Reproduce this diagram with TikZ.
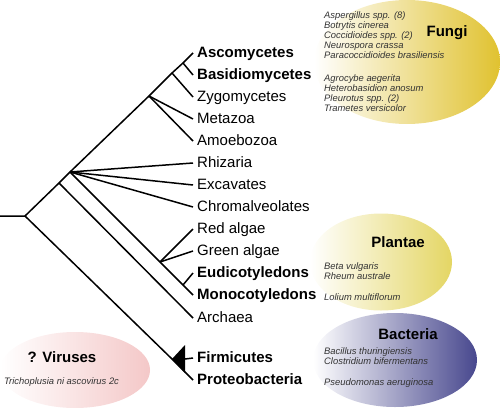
\documentclass[tikz,border=0pt]{standalone}
\usepackage{fontspec}
\setmainfont{Liberation Sans}
\usepackage{xcolor}
\usetikzlibrary{shapes.geometric}

\definecolor{fungigold}{RGB}{224,194,48}
\definecolor{plantyellow}{RGB}{228,214,100}
\definecolor{bactblue}{RGB}{72,72,142}
\definecolor{viruspink}{RGB}{244,200,200}

\begin{document}
\begin{tikzpicture}[x=1pt, y=-1pt]
    % Define styles
    \tikzstyle{taxon} = [anchor=west, inner sep=4pt, font=\fontsize{15}{15}\selectfont, text height=11pt, text depth=3pt]
    \tikzstyle{taxonbold} = [taxon, font=\fontsize{15}{15}\selectfont\bfseries]
    \tikzstyle{groupname} = [font=\fontsize{15}{15}\selectfont\bfseries]
    \tikzstyle{species} = [anchor=west, align=left, inner sep=0pt, text=black!80, font=\fontsize{9.4}{10}\selectfont\itshape]
    \tikzstyle{kingdom} = [ellipse, inner sep=0pt]
    \tikzstyle{branchline} = [line width=1.5pt]

    \useasboundingbox (0,0) rectangle (500,407);

    % Kingdom ellipses
    \node [kingdom, minimum width=186pt, minimum height=124pt, left color=white, middle color=fungigold!18!white, right color=fungigold] (fungi) at (407,62) {};
    \node [kingdom, minimum width=142pt, minimum height=97pt, left color=white, middle color=plantyellow!22!white, right color=plantyellow] (plantae) at (381,262) {};
    \node [kingdom, minimum width=164pt, minimum height=94pt, left color=white, middle color=bactblue!18!white, right color=bactblue] (bacteria) at (395,360) {};
    \node [kingdom, minimum width=150pt, minimum height=76pt, left color=white, middle color=viruspink!30!white, right color=viruspink] (viruses) at (75,370) {};

    % Kingdom names and species
    \node [groupname] (fungilabel) at (447,33) {Fungi};
    \node [species] (asclist) at (324,35) {Aspergillus spp. (8)\\Botrytis cinerea\\Coccidioides spp. (2)\\Neurospora crassa\\Paracoccidioides brasiliensis};
    \node [species] (basidlist) at (324,93) {Agrocybe aegerita\\Heterobasidion anosum\\Pleurotus spp. (2)\\Trametes versicolor};
    \node [groupname] (plantlabel) at (398,242) {Plantae};
    \node [species] (eudilist) at (324,271) {Beta vulgaris\\Rheum australe};
    \node [species] (monolist) at (324,297) {Lolium multiflorum};
    \node [groupname] (bactlabel) at (408,334) {Bacteria};
    \node [species] (firmlist) at (324,356) {Bacillus thuringiensis\\Clostridium bifermentans};
    \node [species] (proteolist) at (324,383) {Pseudomonas aeruginosa};
    \node [groupname] (viruslabel) at (62,357) {? Viruses};
    \node [species] (viruslist) at (4,382) {Trichoplusia ni ascovirus 2c};

    % Taxa
    \node [taxonbold] (asco) at (193,53) {Ascomycetes};
    \node [taxonbold] (basidio) at (193,75) {Basidiomycetes};
    \node [taxon] (zygo) at (193,97) {Zygomycetes};
    \node [taxon] (metazoa) at (193,119) {Metazoa};
    \node [taxon] (amoebo) at (193,141) {Amoebozoa};
    \node [taxon] (rhiz) at (193,163) {Rhizaria};
    \node [taxon] (excav) at (193,185) {Excavates};
    \node [taxon] (chrom) at (193,207) {Chromalveolates};
    \node [taxon] (redalg) at (193,229) {Red algae};
    \node [taxon] (greenalg) at (193,251) {Green algae};
    \node [taxonbold] (eudicot) at (193,273) {Eudicotyledons};
    \node [taxonbold] (monocot) at (193,295) {Monocotyledons};
    \node [taxon] (archaea) at (193,318) {Archaea};
    \node [taxonbold] (firmi) at (193,358) {Firmicutes};
    \node [taxonbold] (proteo) at (193,380) {Proteobacteria};

    % Junctions
    \coordinate (stub) at (0,216);
    \coordinate (root) at (25,216);
    \coordinate (n1) at (59,183);
    \coordinate (n2) at (70,172);
    \coordinate (n3) at (149,96);
    \coordinate (n4) at (172,73);
    \coordinate (n5) at (183,63);
    \coordinate (p1) at (160,262);
    \coordinate (p2) at (183,285);
    \coordinate (b1) at (172,359);
    \coordinate (tritop) at (185,345);
    \coordinate (trimid) at (185,359);
    \coordinate (tribot) at (185,373);

    % Branches
    \draw [branchline] (stub) -- (root) -- (n1) -- (n2) -- (n3) -- (n4) -- (n5) -- (asco.west);
    \draw [branchline] (n5) -- (basidio.west);
    \draw [branchline] (n4) -- (zygo.west);
    \draw [branchline] (n3) -- (metazoa.west);
    \draw [branchline] (n3) -- (amoebo.west);
    \draw [branchline] (n2) -- (rhiz.west);
    \draw [branchline] (n2) -- (excav.west);
    \draw [branchline] (n2) -- (chrom.west);
    \draw [branchline] (n2) -- (p1) -- (p2) -- (monocot.west);
    \draw [branchline] (p1) -- (redalg.west);
    \draw [branchline] (p1) -- (greenalg.west);
    \draw [branchline] (p2) -- (eudicot.west);
    \draw [branchline] (n1) -- (archaea.west);
    \draw [branchline] (root) -- (b1) -- (proteo.west);
    \fill (b1) -- (tritop) -- (tribot) -- cycle;
    \draw [branchline] (trimid) -- (firmi.west);

\end{tikzpicture}
\end{document}
